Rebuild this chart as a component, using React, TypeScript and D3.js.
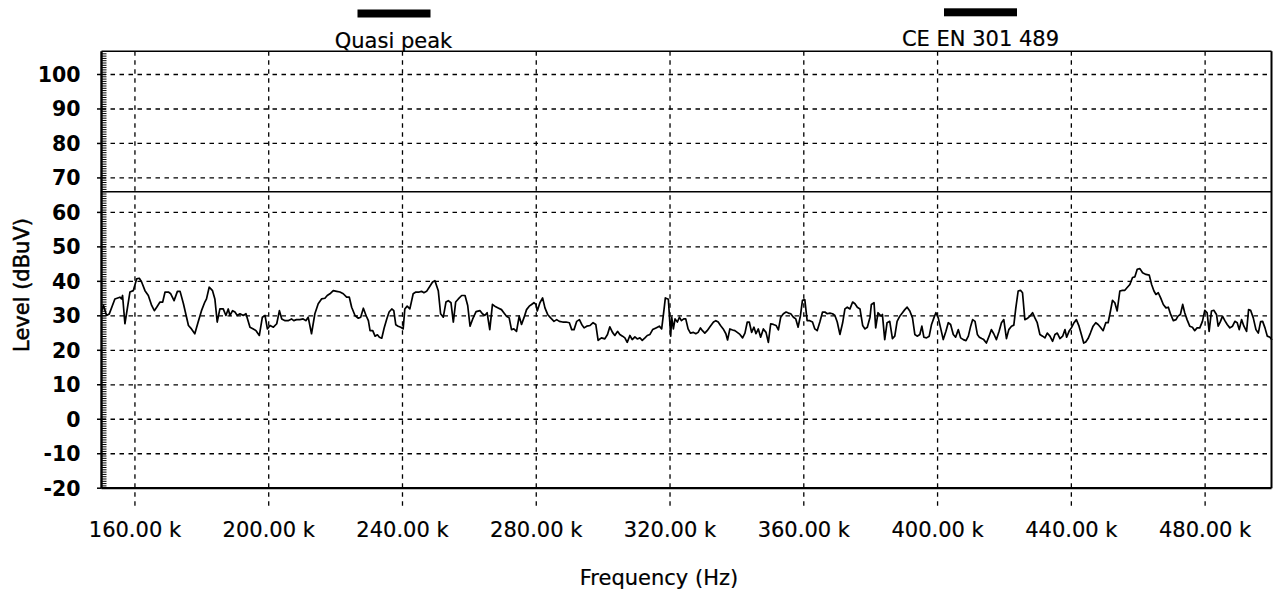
import React from "react";
import * as d3 from "d3";

const xTicks = [160, 200, 240, 280, 320, 360, 400, 440, 480];
const yTicks = [-20, -10, 0, 10, 20, 30, 40, 50, 60, 70, 80, 90, 100];
const limitLevel = 66;
const legendItems = ["Quasi peak", "CE EN 301 489"];

// Quasi-peak trace: frequency (kHz) and level (dBuV)
const freqK = [
  150.0, 150.6, 151.5, 152.3, 154.0, 155.5, 156.0, 156.3, 157.0, 158.5, 159.5, 160.5, 161.3, 162.0, 163.0, 164.0,
  165.0, 165.8, 166.5, 167.5, 168.3, 169.0, 170.0, 170.7, 171.7, 172.7, 173.5, 174.5, 176.0, 176.9, 177.9, 178.9,
  179.9, 180.9, 181.4, 182.2, 183.2, 183.9, 184.6, 185.4, 186.4, 187.2, 187.9, 188.4, 189.2, 189.9, 190.6, 191.4,
  192.4, 193.2, 194.4, 195.4, 196.2, 197.2, 198.1, 198.9, 199.6, 200.4, 201.4, 202.4, 203.2, 203.9, 204.9, 205.8,
  206.8, 207.5, 208.3,
  209.3, 210.3, 211.1, 211.8, 212.8, 213.8, 214.8, 215.8, 216.8, 217.5, 218.3, 219.3, 220.3, 221.3, 222.3, 223.3,
  224.1, 224.8, 225.8, 226.8, 227.5, 228.3, 229.1, 229.8, 230.3, 231.1, 231.8, 232.5, 233.1, 233.8, 234.5, 235.3,
  236.0, 236.8, 237.4, 238.0, 238.7, 239.5, 240.2, 240.7, 241.4, 242.2, 243.2, 244.0, 245.0, 245.7, 246.4, 247.2,
  248.0, 249.0, 249.7, 250.7, 251.4, 252.2, 253.0, 253.7, 254.5, 255.2, 255.9, 256.7, 257.7, 258.7, 259.5, 260.2,
  261.0, 262.0, 263.2, 263.9, 264.6,
  265.3, 266.1, 266.9, 267.6, 268.6, 269.6, 270.3, 271.1, 271.9, 272.6, 273.3, 274.1, 274.9, 275.6, 276.3, 277.1,
  277.9, 278.6, 279.3, 279.9, 280.3, 281.1, 281.9, 282.6, 283.4, 284.3, 285.3, 286.1, 286.9, 287.9, 288.9, 289.9,
  290.6, 291.3, 292.1, 292.9, 293.6, 294.3, 295.1, 296.1, 297.0, 297.8, 298.5, 299.5, 300.5, 301.3, 302.0, 302.8,
  303.5, 304.3, 305.0, 305.8, 306.5, 307.2, 308.0, 308.7, 309.5, 310.2, 311.0, 311.7, 312.5, 313.2, 314.0, 314.8,
  315.8, 316.8, 317.5, 318.2, 318.6, 319.5, 320.2,
  320.5, 321.0, 321.5, 322.2, 322.8, 323.4, 324.1, 324.7, 325.4, 326.1, 327.0, 327.7, 328.4, 329.1, 329.7, 330.4,
  331.1, 332.0, 333.0, 333.7, 334.4, 335.1, 335.9, 336.7, 337.2, 337.9, 338.7, 339.4, 340.1, 340.9, 341.7, 342.4,
  343.1, 343.7, 344.4, 345.1, 345.7, 346.4, 347.1, 347.9, 348.7, 349.4, 350.1, 350.9, 351.7, 352.4, 353.1, 353.9,
  354.7, 355.4, 356.1, 356.9, 357.6, 358.3, 359.0, 359.6, 360.3, 361.0, 361.8, 362.6, 363.3, 364.0, 364.8, 365.6,
  366.3, 367.0, 367.8, 368.6, 369.3, 370.0, 370.8, 371.6, 372.3, 373.0, 373.8, 374.6, 375.3, 376.0, 376.8, 377.6,
  378.3, 379.0, 379.8,
  380.2, 381.0, 381.5, 382.2, 383.1, 383.5, 384.2, 384.9, 385.7, 386.5, 387.2, 387.9, 388.7, 389.5, 390.2, 390.9,
  391.7, 392.5, 393.2, 393.9, 394.7, 395.3, 395.9, 396.7, 397.5, 398.2, 398.9, 399.5, 400.2, 400.9, 401.7, 402.5,
  403.2, 403.9, 404.7, 405.4, 406.2, 406.9, 407.7, 408.5, 409.2, 409.9, 410.5, 411.2, 411.9, 412.5, 413.2, 413.8,
  414.6, 415.4, 416.1, 416.8, 417.6, 418.4, 419.1, 419.8, 420.6, 421.3, 422.1, 422.8, 423.4, 424.1, 424.8, 425.4,
  426.1, 426.8, 427.6, 428.4, 429.1, 429.8, 430.6, 431.4, 432.1, 432.8, 433.6, 434.4, 435.1, 435.8,
  436.6, 437.4, 438.1, 438.6, 439.3, 440.0, 440.8, 441.5, 442.3, 443.0, 443.7, 444.3, 445.0, 445.7, 446.5, 447.3,
  448.0, 448.7, 449.5, 450.3, 451.0, 451.7, 452.3, 453.0, 453.7, 454.5, 455.3, 456.0, 456.7, 457.5, 458.3, 459.0,
  459.7, 460.5, 461.3, 462.3, 463.3, 464.0, 464.7, 465.3, 466.0, 466.7, 467.5, 468.3, 469.0, 469.7, 470.5, 471.3,
  471.9, 472.6, 473.3, 473.9, 474.6, 475.4, 476.2, 476.9, 477.6, 478.4, 479.2, 479.9, 480.6, 481.2, 481.9, 482.6,
  483.4, 483.9, 484.6, 485.2, 485.9, 486.6, 487.4, 488.2, 488.9, 489.6, 490.2, 490.9, 491.6, 492.4, 493.0, 493.6,
  494.4, 495.2, 495.9, 496.6, 497.2, 497.9, 498.6, 499.4, 500.0,
];

const levelDb = [
  31.5, 33.0, 30.1, 30.5, 34.9, 35.4, 34.9, 35.9, 27.7, 36.9, 37.3, 40.7, 40.9, 39.8, 37.3, 35.9,
  33.0, 31.5, 32.5, 34.0, 34.0, 36.9, 36.9, 36.4, 34.4, 37.1, 37.1, 33.5, 27.2, 26.2, 24.8, 28.2,
  31.5, 34.0, 34.9, 38.3, 37.3, 34.9, 28.2, 32.0, 32.0, 30.1, 32.0, 30.1, 31.5, 31.1, 30.1, 30.6,
  30.1, 30.6, 26.7, 26.2, 25.7, 24.3, 29.6, 30.1, 26.2, 27.2, 26.7, 27.7, 31.5, 29.1, 28.6, 28.6,
  29.1, 28.6, 28.9,
  28.9, 29.1, 28.6, 29.6, 24.8, 30.6, 33.5, 34.9, 35.1, 35.9, 36.4, 37.3, 37.1, 36.9, 36.4, 35.4,
  35.4, 32.5, 30.1, 29.3, 29.6, 32.2, 30.1, 28.6, 25.7, 25.7, 24.1, 24.5, 23.8, 23.5, 26.4, 29.1,
  31.1, 32.0, 31.5, 27.4, 27.0, 26.7, 26.2, 32.0, 32.8, 32.0, 36.4, 36.9, 36.9, 37.1, 36.7, 37.1,
  38.3, 39.8, 40.2, 37.3, 30.6, 29.6, 34.0, 34.4, 33.8, 28.2, 34.0, 34.9, 35.9, 35.9, 33.0, 27.0,
  29.1, 31.2, 31.5, 30.6, 30.1,
  30.9, 26.0, 33.3, 32.8, 32.3, 31.8, 30.9, 29.9, 29.4, 26.0, 26.2, 25.5, 29.9, 27.5, 29.4, 31.8,
  32.8, 33.3, 33.8, 33.3, 31.4, 33.8, 35.2, 32.3, 30.4, 29.4, 28.4, 28.9, 28.4, 28.2, 28.2, 28.0,
  26.0, 26.0, 28.4, 28.9, 27.5, 26.5, 27.0, 27.2, 28.0, 27.5, 22.9, 23.6, 23.3, 24.6, 26.8, 25.2,
  24.3, 25.5, 24.6, 24.1, 23.6, 22.3, 24.3, 23.1, 23.9, 23.3, 23.6, 22.9, 23.6, 24.3, 24.6, 26.0,
  26.5, 27.0, 26.2, 31.8, 35.2, 34.8, 24.1,
  29.6, 26.2, 29.1, 28.2, 29.6, 28.6, 29.1, 29.1, 26.2, 25.0, 25.2, 24.8, 25.2, 26.5, 25.7, 25.0,
  25.7, 26.9, 28.2, 28.6, 28.2, 27.2, 26.2, 24.8, 23.0, 26.2, 25.9, 25.7, 25.2, 24.6, 23.6, 25.0,
  28.2, 28.2, 25.2, 26.7, 24.8, 26.2, 23.8, 26.2, 25.2, 22.3, 27.7, 27.5, 27.2, 25.9, 29.6, 30.6,
  31.1, 30.8, 30.6, 29.6, 29.1, 26.7, 30.1, 34.5, 34.7, 28.6, 28.6, 28.2, 26.2, 25.7, 28.2, 31.1,
  31.1, 30.6, 30.8, 30.6, 30.1, 28.2, 24.6, 27.9, 32.0, 32.5, 32.0, 34.0, 33.5, 32.5, 32.0, 27.2,
  26.2, 26.7, 29.6,
  33.3, 33.8, 26.5, 30.9, 29.9, 30.4, 23.1, 28.0, 28.4, 23.4, 24.1, 28.4, 29.9, 30.9, 31.8, 32.5,
  31.4, 29.4, 24.6, 24.1, 24.6, 27.0, 23.8, 23.6, 24.1, 27.5, 29.4, 30.9, 29.4, 26.5, 23.1, 25.5,
  28.0, 27.5, 24.6, 23.8, 26.0, 23.6, 23.1, 22.8, 24.1, 27.0, 28.9, 28.4, 24.6, 23.8, 23.4, 23.1,
  22.1, 24.1, 26.0, 24.8, 23.1, 25.5, 28.0, 28.9, 23.4, 26.0, 27.0, 27.3, 32.3, 37.2, 37.4, 36.7,
  28.9, 29.2, 29.9, 30.9, 29.4, 28.0, 24.6, 24.1, 23.6, 25.0, 24.1, 22.6, 24.6, 25.0,
  23.4, 24.1, 26.0, 23.8, 25.5, 26.5, 28.0, 28.9, 27.0, 24.6, 22.1, 22.4, 23.4, 25.0, 27.0, 28.0,
  27.5, 26.7, 25.7, 28.0, 28.0, 31.4, 34.5, 33.8, 31.4, 37.2, 37.4, 37.4, 38.2, 39.1, 41.1, 41.3,
  43.5, 43.7, 42.5, 42.0, 41.8, 39.1, 37.2, 36.2, 36.7, 35.2, 33.3, 32.3, 32.5, 30.4, 28.6, 28.9,
  29.9, 30.4, 33.3, 30.9, 28.9, 27.0, 26.7, 25.7, 26.5, 26.5, 28.4, 31.6, 30.9, 25.5, 31.4, 31.6,
  30.4, 27.0, 28.4, 29.9, 28.6, 27.5, 26.5, 27.0, 28.4, 28.0, 26.0, 28.9, 27.0, 25.5, 31.8, 31.6,
  29.4, 26.0, 25.0, 28.3, 28.4, 26.5, 24.1, 23.8, 23.0,
];

const W = 1274;
const H = 596;
const left = 101.5;
const right = 1271.5;
const top = 51.3;
const bottom = 488.2;

export default function App() {
  const x = d3.scaleLinear().domain([150, 500]).range([left, 1272]);
  const y = d3.scaleLinear().domain([-20, 100]).range([488.2, 74.5]);
  const n = Math.min(freqK.length, levelDb.length);
  const pts: [number, number][] = [];
  for (let i = 0; i < n; i++) pts.push([freqK[i], levelDb[i]]);
  const line = d3
    .line<[number, number]>()
    .x((d) => x(d[0]))
    .y((d) => y(d[1]));
  const minor = d3.range(-20, 106.5, 10 / 15);
  const font = "'DejaVu Sans', Verdana, sans-serif";
  const dash = "4.5,4.5";

  return (
    <svg
      width={W}
      height={H}
      style={{ position: "absolute", left: 0, top: 0, background: "#fff" }}
      fontFamily={font}
    >
      <rect x={0} y={0} width={W} height={H} fill="#fff" />
      {/* legend */}
      <rect x={357.5} y={9.5} width={73} height={8} fill="#000" />
      <text x={393.5} y={48} textAnchor="middle" fontSize={21} stroke="#000" strokeWidth={0.2}>
        {legendItems[0]}
      </text>
      <rect x={944} y={8.3} width={73} height={8} fill="#000" />
      <text x={980.5} y={45.5} textAnchor="middle" fontSize={21} stroke="#000" strokeWidth={0.2}>
        {legendItems[1]}
      </text>

      {/* horizontal grid */}
      {yTicks.map((t) =>
        t === -20 ? null : (
          <line
            key={"hg" + t}
            x1={left}
            x2={right}
            y1={y(t)}
            y2={y(t)}
            stroke="#000"
            strokeWidth={1.3}
            strokeDasharray={dash}
          />
        )
      )}
      {/* vertical grid + ticks below */}
      {xTicks.map((t) => (
        <line
          key={"vg" + t}
          x1={x(t)}
          x2={x(t)}
          y1={top}
          y2={507}
          stroke="#000"
          strokeWidth={1.3}
          strokeDasharray={dash}
        />
      ))}
      {/* limit line */}
      <line x1={left} x2={right} y1={y(limitLevel)} y2={y(limitLevel)} stroke="#000" strokeWidth={1.4} />

      {/* minor ticks on left axis */}
      {minor.map((m, i) => (
        <line key={"mn" + i} x1={left} x2={left + 5} y1={y(m)} y2={y(m)} stroke="#000" strokeWidth={1} />
      ))}
      {/* major y ticks */}
      {yTicks.map((t) => (
        <line key={"yt" + t} x1={97} x2={left} y1={y(t)} y2={y(t)} stroke="#000" strokeWidth={1.5} />
      ))}

      {/* frame */}
      <line x1={left} x2={right} y1={top} y2={top} stroke="#000" strokeWidth={1.6} />
      <line x1={left} x2={right} y1={bottom} y2={bottom} stroke="#000" strokeWidth={2.2} />
      <line x1={left} x2={left} y1={top} y2={bottom} stroke="#000" strokeWidth={2.4} />
      <line x1={right} x2={right} y1={top} y2={bottom} stroke="#000" strokeWidth={2} />

      {/* trace */}
      <path d={line(pts) || ""} fill="none" stroke="#000" strokeWidth={1.7} strokeLinejoin="round" />

      {/* y tick labels */}
      {yTicks.map((t) => (
        <text
          key={"yl" + t}
          x={80.5}
          y={y(t) + 7.5}
          textAnchor="end"
          fontSize={20.5}
          fontWeight="bold"
        >
          {t}
        </text>
      ))}
      {/* x tick labels */}
      {xTicks.map((t) => (
        <text key={"xl" + t} x={x(t)} y={536.5} textAnchor="middle" fontSize={21} stroke="#000" strokeWidth={0.2}>
          {`${t}.00 k`}
        </text>
      ))}

      {/* axis titles */}
      <text
        transform={`translate(28.5,285) rotate(-90)`}
        textAnchor="middle"
        fontSize={21}
        stroke="#000"
        strokeWidth={0.5}
      >
        Level (dBuV)
      </text>
      <text x={659} y={585} textAnchor="middle" fontSize={21} stroke="#000" strokeWidth={0.2}>
        Frequency (Hz)
      </text>
    </svg>
  );
}
